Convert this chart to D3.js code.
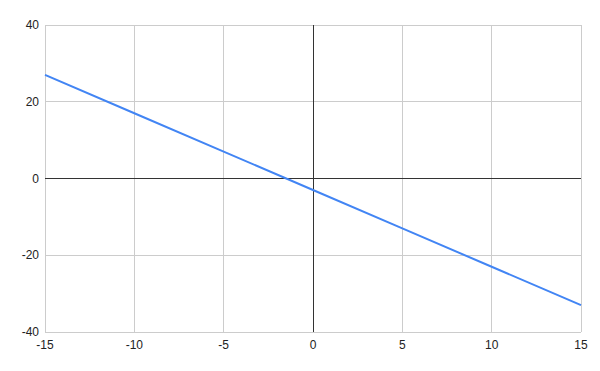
<!DOCTYPE html>
<html>
<head>
<meta charset="utf-8">
<script src="https://cdn.jsdelivr.net/npm/d3@7"></script>
<style>
  body { margin: 0; background: #fff; }
  svg { display: block; font-family: "Liberation Sans", Arial, sans-serif; }
</style>
</head>
<body>
<div id="chart"></div>
<script>
// values
const xValues = [-15, -10, -5, 0, 5, 10, 15];
const yValues = [27, 17, 7, -3, -13, -23, -33];
const xTicks = [-15, -10, -5, 0, 5, 10, 15];
const yTicks = [-40, -20, 0, 20, 40];

const width = 600, height = 371;
const margin = { top: 25, right: 19, bottom: 39, left: 45 };

const svg = d3.select('#chart').append('svg')
  .attr('width', width)
  .attr('height', height);

const x = d3.scaleLinear().domain([-15, 15]).range([margin.left, width - margin.right]);
const y = d3.scaleLinear().domain([-40, 40]).range([height - margin.bottom, margin.top]);

// grid
svg.append('g').selectAll('line.vx')
  .data(xTicks)
  .join('line')
  .attr('x1', d => x(d)).attr('x2', d => x(d))
  .attr('y1', y(40)).attr('y2', y(-40))
  .attr('stroke', '#cccccc').attr('stroke-width', 1)
  .attr('shape-rendering', 'crispEdges');

svg.append('g').selectAll('line.hy')
  .data(yTicks)
  .join('line')
  .attr('x1', x(-15)).attr('x2', x(15))
  .attr('y1', d => y(d)).attr('y2', d => y(d))
  .attr('stroke', '#cccccc').attr('stroke-width', 1)
  .attr('shape-rendering', 'crispEdges');

// zero axes
svg.append('line')
  .attr('x1', x(-15)).attr('x2', x(15))
  .attr('y1', y(0)).attr('y2', y(0))
  .attr('stroke', '#333').attr('shape-rendering', 'crispEdges');
svg.append('line')
  .attr('x1', x(0)).attr('x2', x(0))
  .attr('y1', y(40)).attr('y2', y(-40))
  .attr('stroke', '#333').attr('shape-rendering', 'crispEdges');

// tick labels
svg.append('g').selectAll('text')
  .data(yTicks)
  .join('text')
  .attr('x', margin.left - 6)
  .attr('y', d => y(d))
  .attr('dy', '0.35em')
  .attr('text-anchor', 'end')
  .attr('font-size', 12)
  .attr('fill', '#222')
  .text(d => d);

svg.append('g').selectAll('text')
  .data(xTicks)
  .join('text')
  .attr('x', d => x(d))
  .attr('y', y(-40) + 13)
  .attr('dy', '0.35em')
  .attr('text-anchor', 'middle')
  .attr('font-size', 12)
  .attr('fill', '#222')
  .text(d => d);

// series line
const pts = xValues.map((v, i) => [v, yValues[i]]);
svg.append('path')
  .datum(pts)
  .attr('fill', 'none')
  .attr('stroke', '#4285f4')
  .attr('stroke-width', 2)
  .attr('d', d3.line().x(d => x(d[0])).y(d => y(d[1])));
</script>
</body>
</html>
